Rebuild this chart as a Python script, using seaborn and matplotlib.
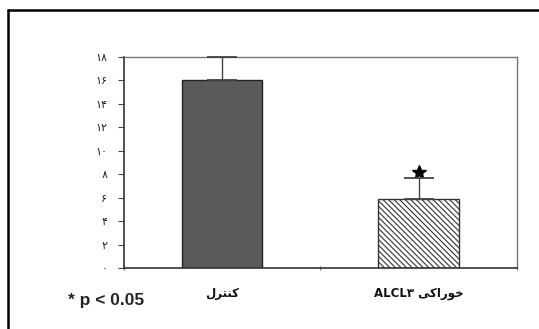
import matplotlib
matplotlib.use("Agg")
import matplotlib.pyplot as plt
import seaborn as sns
import pandas as pd
from matplotlib.lines import Line2D

# ---- data ----
categories = ["کنترل", "خوراکی ALCL۳"]
values = [16.0, 5.9]
errors_up = [2.0, 1.8]
yticks = [0, 2, 4, 6, 8, 10, 12, 14, 16, 18]
ytick_labels = ["۰", "۲", "۴", "۶", "۸", "۱۰", "۱۲", "۱۴", "۱۶", "۱۸"]
note_text = "* p < 0.05"

# ---- minimal Arabic-script shaping for display (matplotlib has no bidi) ----
FORMS = {  # iso, fin, ini, med
    "ک": ("\uFB8E", "\uFB8F", "\uFB90", "\uFB91"),
    "ن": ("\uFEE5", "\uFEE6", "\uFEE7", "\uFEE8"),
    "ت": ("\uFE95", "\uFE96", "\uFE97", "\uFE98"),
    "ل": ("\uFEDD", "\uFEDE", "\uFEDF", "\uFEE0"),
    "خ": ("\uFEA5", "\uFEA6", "\uFEA7", "\uFEA8"),
    "ی": ("\uFBFC", "\uFBFD", "\uFBFE", "\uFBFF"),
    "ر": ("\uFEAD", "\uFEAE", None, None),
    "و": ("\uFEED", "\uFEEE", None, None),
    "ا": ("\uFE8D", "\uFE8E", None, None),
}

def is_ar(c):
    return c in FORMS

def shape_word(w):
    out = []
    for i, c in enumerate(w):
        f = FORMS[c]
        prev_joins = i > 0 and FORMS[w[i - 1]][2] is not None
        next_joins = i < len(w) - 1 and f[2] is not None
        if prev_joins and next_joins:
            out.append(f[3])
        elif prev_joins:
            out.append(f[1])
        elif next_joins:
            out.append(f[2])
        else:
            out.append(f[0])
    return "".join(reversed(out))

def display(s):
    runs, cur, cur_ar = [], "", None
    for c in s:
        a = is_ar(c)
        if cur and a != cur_ar and c != " ":
            runs.append((cur, cur_ar)); cur = ""
        if not cur:
            cur_ar = a
        cur += c
    if cur:
        runs.append((cur, cur_ar))
    parts = []
    for txt, ar in runs:
        if ar:
            words = txt.strip().split(" ")
            parts.append(" ".join(shape_word(w) for w in reversed(words)))
        else:
            parts.append(txt.strip())
    return " ".join(reversed(parts))

sns.set_theme(style="white")
plt.rcParams["font.family"] = ["DejaVu Sans", "Liberation Sans"]
plt.rcParams["hatch.linewidth"] = 0.8

df = pd.DataFrame({"group": categories, "value": values})

fig = plt.figure(figsize=(5.39, 3.29), dpi=100)
ax = fig.add_axes([0.230, 0.1854, 0.729, 0.6413])

sns.barplot(data=df, x="group", y="value", ax=ax, width=0.41,
            palette=["#5c595d", "#ffffff"], hue="group", legend=False,
            edgecolor="#222222", linewidth=1.0, saturation=1)

bars = ax.patches
bars[1].set_hatch("\\\\\\\\\\\\")
bars[1].set_edgecolor("#333333")

eb = ax.errorbar(x=[0, 1], y=values, yerr=[[0, 0], errors_up], fmt="none",
                 ecolor="#444444", elinewidth=1.0, capsize=10.5, capthick=1.3,
                 zorder=5)
for art in eb.lines[1] + eb.lines[2]:
    art.set_clip_on(False)
    art.set_zorder(5)
ax.plot([1], [values[1] + errors_up[1] + 0.45], marker="*", color="black",
        markersize=10, linestyle="none")

ax.set_xlim(-0.5, 1.5)
ax.set_ylim(0, 18)
ax.set_yticks(yticks)
ax.set_yticklabels(ytick_labels, fontsize=8, color="#222222")
ax.set_xticks([0, 1])
ax.set_xticklabels([display(c) for c in categories], fontsize=8.5,
                   fontweight="bold", color="#111111")
ax.tick_params(axis="x", length=0, pad=14)
ax.tick_params(axis="y", length=4, width=0.8, color="#444444", left=True,
               direction="out", pad=8)
ax.set_xticks([-0.5, 0.5, 1.5], minor=True)
ax.tick_params(axis="x", which="minor", length=3, width=0.8, bottom=True,
               direction="inout", color="#777777")
ax.set_xlabel("")
ax.set_ylabel("")

for side in ["left", "bottom"]:
    ax.spines[side].set_color("#333333")
    ax.spines[side].set_linewidth(1.2)
for side in ["top", "right"]:
    ax.spines[side].set_color("#777777")
    ax.spines[side].set_linewidth(1.0)

fig.text(68 / 539, 1 - 301 / 329, note_text, fontsize=12.5, fontweight="bold",
         family=["Liberation Sans", "DejaVu Sans"], va="center", ha="left")

# outer frame of the scanned figure
fig.add_artist(Line2D([8 / 539, 8 / 539], [0, 1 - 10 / 329], color="black",
                      linewidth=1.8, transform=fig.transFigure))
fig.add_artist(Line2D([8 / 539, 1], [1 - 10 / 329, 1 - 10 / 329], color="black",
                      linewidth=1.8, transform=fig.transFigure))

fig.savefig("out.png", dpi=100)
